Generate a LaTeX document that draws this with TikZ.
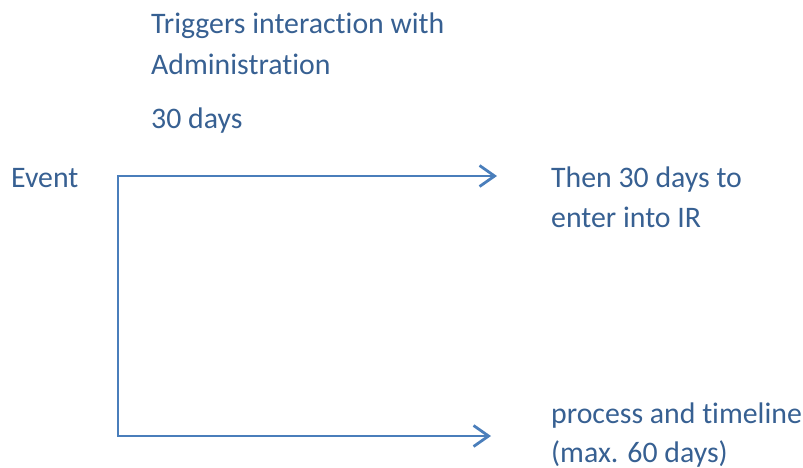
\documentclass[tikz,border=0pt]{standalone}
\usepackage{fontspec}
\setmainfont{Carlito}[Ligatures=NoCommon]
\usetikzlibrary{arrows.meta}
\definecolor{txtblue}{HTML}{376092}
\definecolor{lnblue}{HTML}{4A7EBB}
\tikzset{
  lbl/.style={anchor=base west, inner sep=0pt, text=txtblue, font=\fontsize{29.8}{34}\selectfont},
  conn/.style={draw=lnblue, line width=2.8pt, line join=miter, {Straight Barb[length=15pt,width=21pt]}-{Straight Barb[length=15pt,width=21pt]}}
}
\begin{document}
\begin{tikzpicture}[x=1pt,y=-1pt]
\useasboundingbox (0,0) rectangle (803,467);
\node[lbl] (trig) at (151,33) {Triggers interaction with};
\node[lbl] (admin) at (151,74) {Administration};
\node[lbl] (days) at (151,128) {30 days};
\node[lbl] (event) at (11,187) {Event};
\node[lbl] (then) at (551,187) {Then 30 days to};
\node[lbl] (enter) at (551,227) {enter into IR};
\node[lbl] (proc) at (551,423) {process and timeline};
\node[lbl] (max) at (551,462) {(max. 60 days)};
\coordinate (corner) at (118,176);
\coordinate (end1) at (497,176);
\coordinate (end2) at (491,436);
\draw[conn] (end1) -- (corner) |- (end2);
\end{tikzpicture}
\end{document}
